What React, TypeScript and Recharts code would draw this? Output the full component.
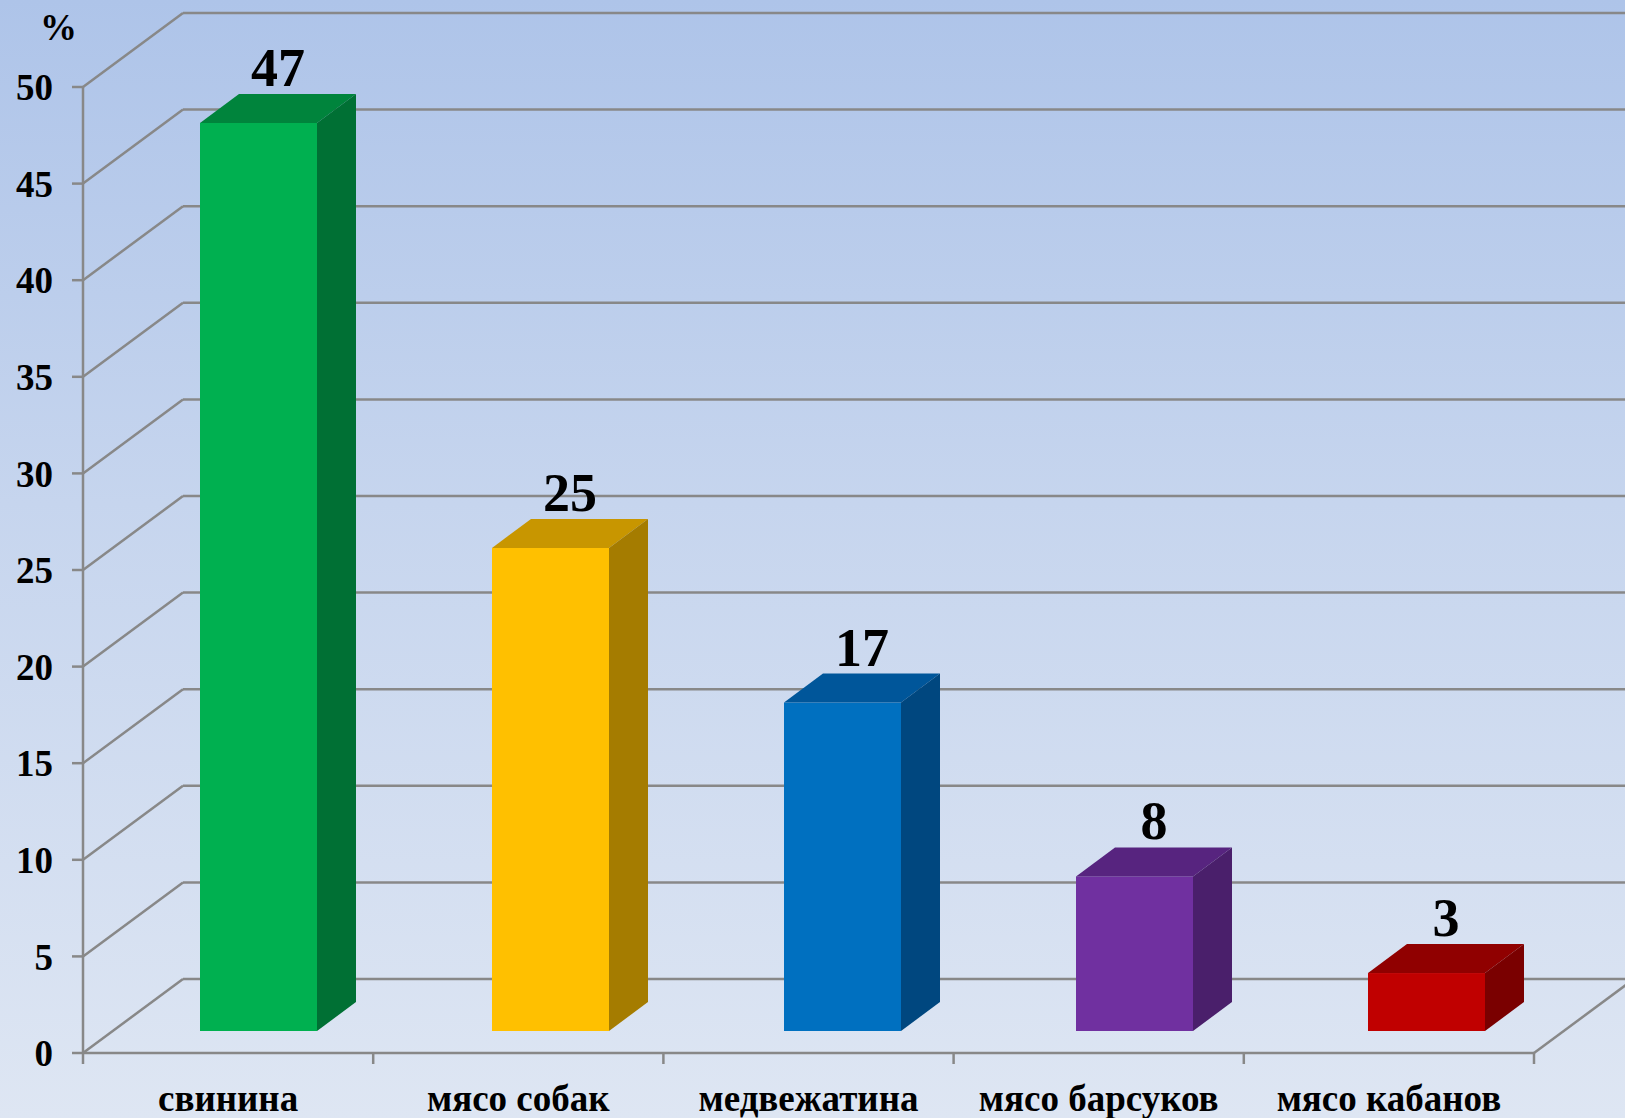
import { BarChart, Bar, XAxis, YAxis, CartesianGrid, LabelList } from "recharts";

const categories = ["свинина", "мясо собак", "медвежатина", "мясо барсуков", "мясо кабанов"];
const values = [47, 25, 17, 8, 3];
const yTicks = [0, 5, 10, 15, 20, 25, 30, 35, 40, 45, 50];

const frontColors = ["#00B050", "#FFC000", "#0070C0", "#7030A0", "#C00000"];
const topColors = ["#00843C", "#C89600", "#00569A", "#57247F", "#900000"];
const sideColors = ["#007034", "#A57C00", "#00477F", "#4A1F6B", "#7A0000"];

const data = categories.map((name, i) => ({ name, value: values[i] }));

const W = 1625;
const H = 1118;
const AXIS_W = 83;
const XAXIS_H = 65;
const PLOT_BOTTOM = H - XAXIS_H;

// wall depth (perspective offset of the back wall)
const WALL_DX = 100;
const WALL_DY = 74;
// bar depth and where the bar sits inside the floor
const BAR_DX = 39;
const BAR_DY = 29;
const SHIFT_X = 30;
const SHIFT_Y = 22;
// the series plane is drawn a touch wider than the front axis
const DRIFT = 1.8;

const FONT = "'Liberation Serif', 'Times New Roman', serif";
const GRID = "#888888";

function Box(props: any) {
  const { x, y, width, height, index } = props;
  const fx = x + SHIFT_X + index * DRIFT;
  const fy = y - SHIFT_Y;
  const r = fx + width;
  return (
    <g>
      <rect x={fx} y={fy} width={width} height={height} fill={frontColors[index]} />
      <polygon
        points={`${fx},${fy} ${fx + BAR_DX},${fy - BAR_DY} ${r + BAR_DX},${fy - BAR_DY} ${r},${fy}`}
        fill={topColors[index]}
      />
      <polygon
        points={`${r},${fy} ${r + BAR_DX},${fy - BAR_DY} ${r + BAR_DX},${fy + height - BAR_DY} ${r},${fy + height}`}
        fill={sideColors[index]}
      />
    </g>
  );
}

function ValueLabel(props: any) {
  const { x, y, width, value, index } = props;
  const cx = x + SHIFT_X + index * DRIFT + (width + BAR_DX) / 2;
  return (
    <text x={cx} y={y - SHIFT_Y - BAR_DY - 8} textAnchor="middle" fontFamily={FONT} fontWeight="bold" fontSize={54} fill="#000">
      {value}
    </text>
  );
}

function WallLine(p: any) {
  const { x1, y1, x2, y2 } = p;
  const floor = Math.abs(y1 - PLOT_BOTTOM) < 1;
  return (
    <g>
      <line x1={x1} y1={y1} x2={x1 + WALL_DX} y2={y1 - WALL_DY} stroke={GRID} strokeWidth={2.5} />
      <line x1={x1 + WALL_DX} y1={y1 - WALL_DY} x2={x2 + WALL_DX} y2={y2 - WALL_DY} stroke={GRID} strokeWidth={2.5} />
      {floor && <line x1={x2} y1={y2} x2={x2 + WALL_DX} y2={y2 - WALL_DY} stroke={GRID} strokeWidth={2.5} />}
    </g>
  );
}

function CategoryTick(props: any) {
  const { x, y, payload, index } = props;
  const half = payload.offset || 0;
  return (
    <g>
      <line x1={x - half} y1={y} x2={x - half} y2={y + 11} stroke={GRID} strokeWidth={2.5} />
      {index === categories.length - 1 && (
        <line x1={x + half} y1={y} x2={x + half} y2={y + 11} stroke={GRID} strokeWidth={2.5} />
      )}
      <text x={x} y={y + 58} textAnchor="middle" fontFamily={FONT} fontWeight="bold" fontSize={37} fill="#000">
        {payload.value}
      </text>
    </g>
  );
}

export default function App() {
  return (
    <div
      style={{
        position: "relative",
        width: W,
        height: H,
        overflow: "hidden",
        background: "linear-gradient(to bottom, #AEC4E9 0%, #C6D5EE 45%, #DEE6F3 100%)",
      }}
    >
      <style>{"body{margin:0}"}</style>
      <div
        style={{
          position: "absolute",
          left: 40,
          top: 8,
          fontFamily: FONT,
          fontWeight: "bold",
          fontSize: 37,
          lineHeight: "40px",
          color: "#000",
        }}
      >
        %
      </div>
      <BarChart width={W} height={H} data={data} margin={{ top: 87, right: 91, bottom: 0, left: 0 }} barSize={117}>
        <CartesianGrid vertical={false} horizontal={WallLine} />
        <XAxis
          dataKey="name"
          height={XAXIS_H}
          axisLine={{ stroke: GRID, strokeWidth: 2.5 }}
          tickLine={false}
          tickSize={0}
          tickMargin={0}
          tick={CategoryTick}
          interval={0}
        />
        <YAxis
          width={AXIS_W}
          domain={[0, 50]}
          ticks={yTicks}
          axisLine={{ stroke: GRID, strokeWidth: 2.5 }}
          tickLine={{ stroke: GRID, strokeWidth: 2.5 }}
          tickSize={11}
          tickMargin={19}
          tick={{ fontFamily: FONT, fontWeight: "bold", fontSize: 37, fill: "#000" }}
        />
        <Bar dataKey="value" shape={Box} isAnimationActive={false}>
          <LabelList dataKey="value" content={ValueLabel} />
        </Bar>
      </BarChart>
    </div>
  );
}
